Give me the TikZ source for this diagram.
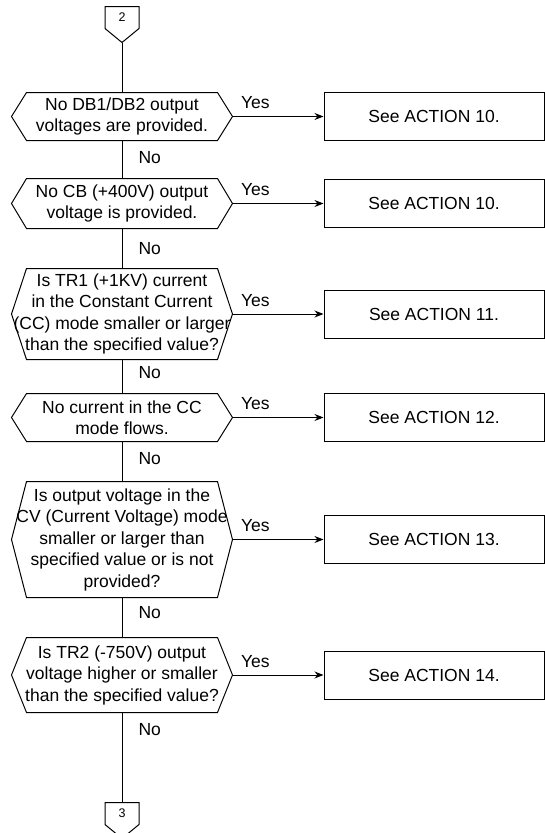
\documentclass[tikz,border=0pt]{standalone}
\usepackage{fontspec}
\setmainfont{Liberation Sans}
\usetikzlibrary{arrows.meta, positioning, calc}

\begin{document}
\begin{tikzpicture}[
        x=1pt, y=-1pt,
        line width=1pt,
        every node/.style={font=\fontsize{17.5}{21.5}\selectfont},
        dec/.style={rectangle, minimum width=220pt, inner sep=0pt, align=center},
        act/.style={rectangle, draw, minimum width=220pt, minimum height=48pt, align=center},
        offpage/.style={rectangle, minimum width=33pt, minimum height=21pt, inner sep=0pt, font=\fontsize{12.5}{14}\selectfont},
        yes/.style={anchor=base west, inner sep=0pt, xshift=8pt, yshift=8pt},
        no/.style={anchor=west, inner sep=0pt, xshift=16pt},
    ]
    \useasboundingbox (0,0) rectangle (544,833);

    \node[offpage] (c2) at (122,17.5) {2};
    \node[dec, minimum height=47pt] (d1) at (122,116.5) {No DB1/DB2 output\\ voltages are provided.};
    \node[dec, minimum height=49pt, below=38pt of d1] (d2) {No CB (+400V) output\\ voltage is provided.};
    \node[dec, minimum height=90pt, below=40pt of d2] (d3) {Is TR1 (+1KV) current\\ in the Constant Current\\ (CC) mode smaller or larger\\ than the specified value?};
    \node[dec, minimum height=47pt, below=34pt of d3] (d4) {No current in the CC\\ mode flows.};
    \node[dec, minimum height=115pt, below=40pt of d4] (d5) {Is output voltage in the\\ CV (Current Voltage) mode\\ smaller or larger than\\ specified value or is not\\ provided?};
    \node[dec, minimum height=74pt, below=40pt of d5] (d6) {Is TR2 (-750V) output\\ voltage higher or smaller\\ than the specified value?};
    \node[offpage, below=90pt of d6] (c3) {3};

    \node[act, right=91pt of d1] (a1) {See ACTION 10.};
    \node[act, right=91pt of d2] (a2) {See ACTION 10.};
    \node[act, right=91pt of d3] (a3) {See ACTION 11.};
    \node[act, right=91pt of d4] (a4) {See ACTION 12.};
    \node[act, right=91pt of d5] (a5) {See ACTION 13.};
    \node[act, right=91pt of d6] (a6) {See ACTION 14.};

    % decision outlines
    \foreach \d in {d1,d2,d3,d4,d5,d6}
        \draw (\d.west) -- ([xshift=15pt]\d.north west) -- ([xshift=-15pt]\d.north east) -- (\d.east)
            -- ([xshift=-15pt]\d.south east) -- ([xshift=15pt]\d.south west) -- cycle;
    % off-page connectors
    \foreach \c in {c2,c3}
        \draw (\c.north west) -- (\c.north east) -- (\c.south east) -- ([yshift=-14pt]\c.south) -- (\c.south west) -- cycle;
    \coordinate (c2tip) at ([yshift=-14pt]c2.south);

    \draw (c2tip) -- (d1.north);
    \draw (d1.south) -- node[no, pos=0.45] {No} (d2.north);
    \draw (d2.south) -- node[no, pos=0.5] {No} (d3.north);
    \draw (d3.south) -- node[no, pos=0.38] {No} (d4.north);
    \draw (d4.south) -- node[no, pos=0.43] {No} (d5.north);
    \draw (d5.south) -- node[no, pos=0.38] {No} (d6.north);
    \draw (d6.south) -- node[no, pos=0.19] {No} (c3.north);

    \foreach \i in {1,...,6}
        \draw[-{Stealth[length=9pt, width=7pt]}] (d\i.east) -- node[yes, pos=0] {Yes} (a\i.west);
\end{tikzpicture}
\end{document}
